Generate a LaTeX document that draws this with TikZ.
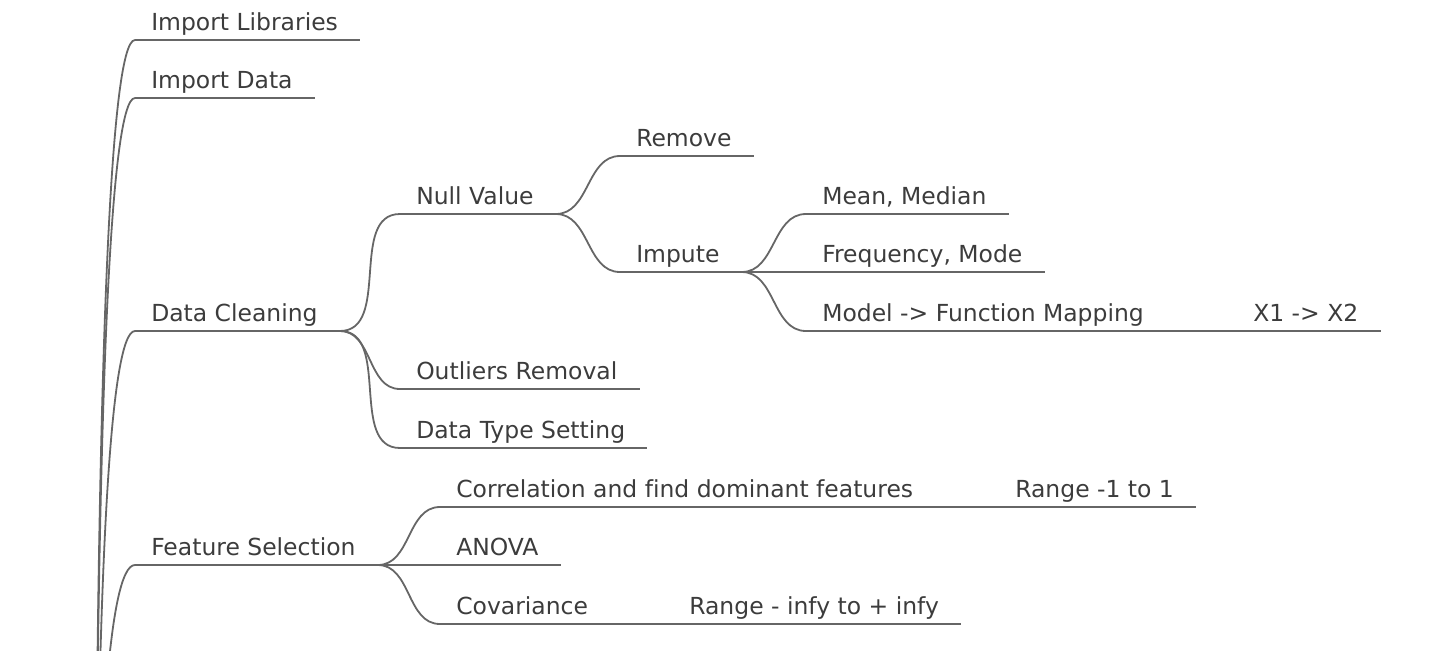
\documentclass[tikz,border=0pt]{standalone}
\usepackage{fontspec}
\setmainfont[Ligatures=NoCommon]{DejaVu Sans}
\usetikzlibrary{calc}
\definecolor{linegray}{HTML}{666666}
\definecolor{textgray}{HTML}{3C3C3C}
\tikzset{
    topic/.style={anchor=south west, inner xsep=12pt, inner ysep=6.75pt, text depth=0pt,
        text=textgray, font=\fontsize{17.6}{21}\selectfont, execute at end node={\hspace*{4.5pt}}},
    underline/.style={draw=linegray, line width=1.35pt},
    link/.style={draw=linegray, line width=1.35pt, out=0, in=180},
    rootlink/.style={draw=linegray, line width=1.35pt,
        to path={.. controls ($(\tikztostart)!.667!(\tikztostart |- \tikztotarget)$)
            and ($(\tikztotarget)!.667!(\tikztostart |- \tikztotarget)$) .. (\tikztotarget)}},
}
\begin{document}
\begin{tikzpicture}[x=0.75pt,y=-0.75pt]
    \path[use as bounding box, clip] (0,0) rectangle (1430,650);
    \coordinate (root) at (95,1140);
    % first level
    \node[topic] (implib) at (135,40) {Import Libraries};
    \node[topic] (impdata) at (135,98) {Import Data};
    \node[topic] (cleaning) at (135,331) {Data Cleaning};
    \node[topic] (feature) at (135,565) {Feature Selection};
    % data cleaning
    \node[topic] (nullval) at (400,214) {Null Value};
    \node[topic] (outliers) at (400,389) {Outliers Removal};
    \node[topic] (dtype) at (400,448) {Data Type Setting};
    \node[topic] (remove) at (620,156) {Remove};
    \node[topic] (impute) at (620,272) {Impute};
    \node[topic] (mean) at (806,214) {Mean, Median};
    \node[topic] (freq) at (806,272) {Frequency, Mode};
    \node[topic] (model) at (806,331) {Model -> Function Mapping};
    \node[topic] (xmap) at (1237,331) {X1 -> X2};
    % feature selection
    \node[topic] (corr) at (440,507) {Correlation and find dominant features};
    \node[topic] (anova) at (440,565) {ANOVA};
    \node[topic] (cov) at (440,624) {Covariance};
    \node[topic] (rangeone) at (999,507) {Range -1 to 1};
    \node[topic] (rangeinf) at (673,624) {Range - infy to + infy};
    \foreach \n in {implib,impdata,cleaning,feature,nullval,outliers,dtype,remove,impute,
        mean,freq,model,xmap,corr,anova,cov,rangeone,rangeinf}
        \draw[underline] (\n.south west) -- (\n.south east);
    \foreach \b in {implib,impdata,cleaning,feature}
        \draw[rootlink] (root) to (\b.south west);
    \foreach \a/\b in {cleaning/nullval,cleaning/outliers,cleaning/dtype,nullval/remove,
        nullval/impute,impute/mean,impute/freq,impute/model,model/xmap,
        feature/corr,feature/anova,feature/cov,corr/rangeone,cov/rangeinf}
        \draw[link] (\a.south east) to (\b.south west);
\end{tikzpicture}
\end{document}
